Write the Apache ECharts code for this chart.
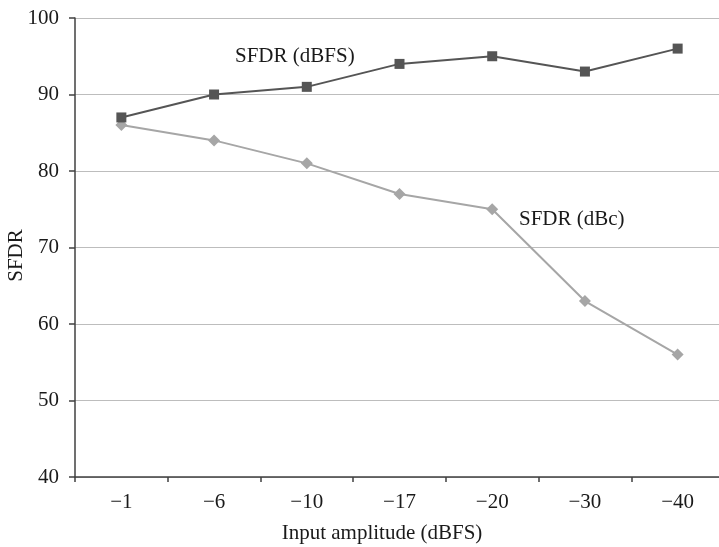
<!DOCTYPE html>
<html>
<head>
<meta charset="utf-8">
<script src="https://cdn.jsdelivr.net/npm/echarts@6/dist/echarts.min.js"></script>
<style>html,body{margin:0;padding:0;background:#fff;}#c{width:719px;height:547px;}</style>
</head>
<body>
<div id="c"></div>
<script>
const categories = ['\u22121', '\u22126', '\u221210', '\u221217', '\u221220', '\u221230', '\u221240'];
const sfdrDbfs = [87, 90, 91, 94, 95, 93, 96];
const sfdrDbc = [86, 84, 81, 77, 75, 63, 56];
const yTicks = [40, 50, 60, 70, 80, 90, 100];
const seriesNames = ['SFDR (dBFS)', 'SFDR (dBc)'];

const font = 'Liberation Serif, Times New Roman, serif';
const chart = echarts.init(document.getElementById('c'));
chart.setOption({
  animation: false,
  backgroundColor: '#fff',
  grid: { left: 75, right: -5, top: 18, bottom: 70, containLabel: false, outerBoundsMode: 'none' },
  xAxis: {
    type: 'category',
    data: categories,
    boundaryGap: true,
    name: 'Input amplitude (dBFS)',
    nameLocation: 'middle',
    nameGap: 46,
    nameMoveOverlap: false,
    nameTextStyle: { fontFamily: font, fontSize: 21, color: '#1a1a1a', padding: [0, 35, 0, 0] },
    axisLine: { lineStyle: { color: '#404040', width: 1.5 } },
    axisTick: { show: true, length: 5, alignWithLabel: false, lineStyle: { color: '#404040', width: 1.5 } },
    axisLabel: { fontFamily: font, fontSize: 21, color: '#1a1a1a', margin: 15 },
    splitLine: { show: false }
  },
  yAxis: {
    type: 'value',
    min: yTicks[0],
    max: yTicks[yTicks.length - 1],
    interval: 10,
    name: 'SFDR',
    nameLocation: 'middle',
    nameGap: 48,
    nameRotate: 90,
    nameMoveOverlap: false,
    nameTextStyle: { fontFamily: font, fontSize: 21, color: '#1a1a1a', padding: [0, 16, 0, 0] },
    axisLine: { show: true, lineStyle: { color: '#404040', width: 1.5 } },
    axisTick: { show: true, length: 6, lineStyle: { color: '#404040', width: 1.5 } },
    axisLabel: { fontFamily: font, fontSize: 21, color: '#1a1a1a', margin: 16 },
    splitLine: { show: true, lineStyle: { color: '#bdbdbd', width: 1.2 } }
  },
  graphic: [
    { type: 'text', left: 235, top: 46, style: { text: seriesNames[0], font: '21px ' + font, fill: '#1a1a1a' } },
    { type: 'text', left: 519, top: 209, style: { text: seriesNames[1], font: '21px ' + font, fill: '#1a1a1a' } }
  ],
  series: [
    {
      name: seriesNames[0],
      type: 'line',
      data: sfdrDbfs,
      symbol: 'rect',
      symbolSize: 10,
      lineStyle: { color: '#555555', width: 2 },
      itemStyle: { color: '#555555' },
      z: 3
    },
    {
      name: seriesNames[1],
      type: 'line',
      data: sfdrDbc,
      symbol: 'diamond',
      symbolSize: 12,
      lineStyle: { color: '#a6a6a6', width: 2 },
      itemStyle: { color: '#a6a6a6' },
      z: 2
    }
  ]
});
</script>
</body>
</html>
